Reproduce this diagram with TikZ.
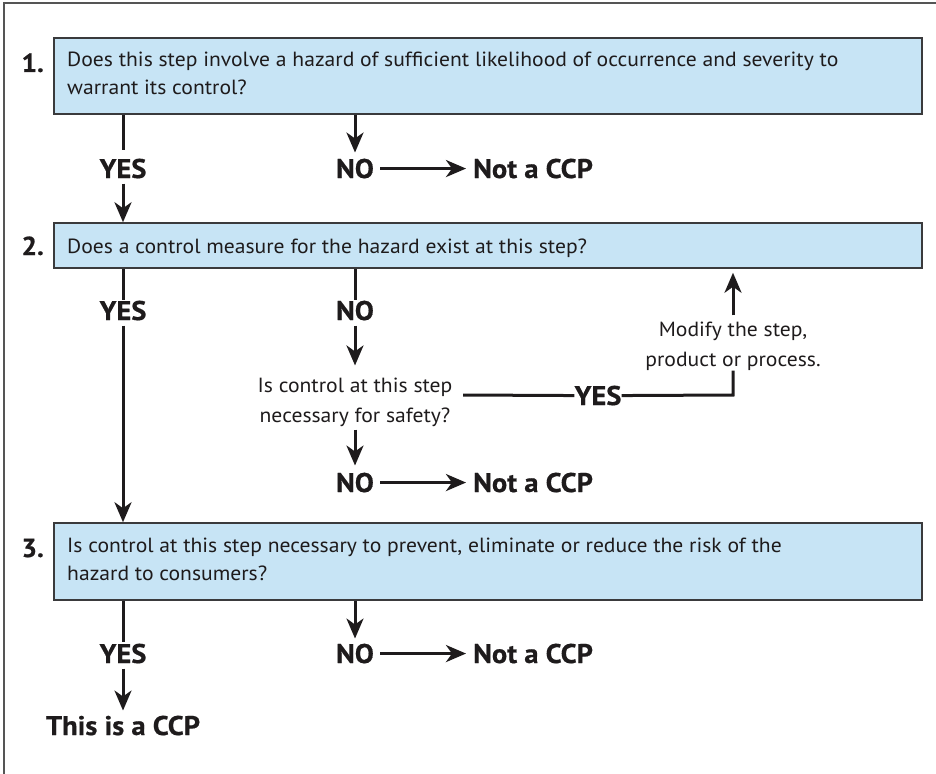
\documentclass[tikz,border=0pt]{standalone}
\usepackage{fontspec}
\setmainfont[FakeStretch=1.055, BoldFeatures={FakeBold=0.6}]{PT Sans}
\usetikzlibrary{arrows.meta,fit}
\definecolor{boxfill}{HTML}{C7E4F5}
\definecolor{boxline}{HTML}{3A3A3C}
\definecolor{ink}{HTML}{1E1B1C}
\definecolor{framecol}{HTML}{555555}
\newcommand\boxtextfont{\fontsize{20.5}{28}\selectfont}
\newcommand\stepnofont{\bfseries\fontsize{26}{28}\selectfont}
\newcommand\answerfont{\bfseries\fontsize{27}{30}\selectfont}
\newcommand\cnotefont{\fontsize{20.5}{30}\selectfont}
\begin{document}
\begin{tikzpicture}[x=1pt,y=-1pt,
  qbox/.style={draw=boxline, line width=1.5pt, fill=boxfill, inner sep=0pt},
  qtext/.style={font=\boxtextfont, text=ink, inner sep=0pt, anchor=base west},
  stepno/.style={font=\stepnofont, text=ink, inner sep=0pt, anchor=base east},
  ans/.style={font=\answerfont, text=ink, inner sep=0pt, anchor=base},
  result/.style={ans, anchor=base west},
  cnote/.style={font=\cnotefont, text=ink, inner sep=0pt, align=center},
  conn/.style={draw=ink, line width=3pt},
  arr/.style={conn, -{Stealth[length=20pt,width=17pt,inset=6pt]}}]
\useasboundingbox (0,0) rectangle (936,773);
\clip (0,0) rectangle (936,773);
% outer frame
\draw[framecol, line width=1.5pt] (4,790) -- (4,3) -- (950,3);

% question boxes
\node[qbox, fit={(54,38) (922,114)}] (b1) {};
\node[qbox, fit={(54,223) (922,268)}] (b2) {};
\node[qbox, fit={(54,523) (922,600)}] (b3) {};

\node[stepno] (n1) at (44,72) {1.};
\node[qtext] (q1a) at (67,67) {Does this step involve a hazard of sufficient likelihood of occurrence and severity to};
\node[qtext] (q1b) at (67,95) {warrant its control?};
\node[stepno] (n2) at (44,255) {2.};
\node[qtext] (q2) at (67,253) {Does a control measure for the hazard exist at this step?};
\node[stepno] (n3) at (44,557) {3.};
\node[qtext] (q3a) at (67,552) {Is control at this step necessary to prevent, eliminate or reduce the risk of the};
\node[qtext] (q3b) at (67,580) {hazard to consumers?};

% answers to question 1
\node[ans] (yes1) at (123,178) {YES};
\node[ans] (no1) at (355,178) {NO};
\node[result] (ncp1) at (473,178) {Not a CCP};
\draw[conn, shorten >=9pt] (b1.south -| yes1) -- (yes1.north);
\draw[arr, shorten <=5pt] (yes1.south) -- (b2.north -| yes1);
\draw[arr, shorten >=6pt] (b1.south -| no1) -- (no1.north);
\draw[arr, shorten <=6pt, shorten >=7pt] (no1.east) -- (ncp1.west);

% answers to question 2
\node[ans] (yes2) at (123,320) {YES};
\node[ans] (no2) at (355,320) {NO};
\node[cnote] (safety) at (355,402) {Is control at this step\\necessary for safety?};
\node[ans] (yes3) at (598,405) {YES};
\node[cnote] (modify) at (733,346) {Modify the step,\\product or process.};
\coordinate (yesl) at (463,395);
\coordinate (bend) at (733,395);
\node[ans] (no3) at (355,492) {NO};
\node[result] (ncp2) at (473,492) {Not a CCP};
\draw[conn, shorten >=1pt] (b2.south -| yes2) -- (yes2.north);
\draw[arr, shorten <=5pt] (yes2.south) -- (b3.north -| yes2);
\draw[conn, shorten >=1pt] (b2.south -| no2) -- (no2.north);
\draw[arr, shorten <=5pt, shorten >=12pt] (no2.south) -- (safety.north);
\draw[conn] (yesl) -- (yes3.west);
\draw[conn] (yes3.east) -- (bend) -- (modify.south);
\draw[arr, shorten <=6pt, shorten >=4pt] (modify.north) -- (b2.south -| modify);
\draw[arr, shorten <=3pt, shorten >=7pt] (safety.south) -- (no3.north);
\draw[arr, shorten <=6pt, shorten >=7pt] (no3.east) -- (ncp2.west);

% answers to question 3
\node[ans] (yes4) at (123,663) {YES};
\node[ans] (no4) at (355,663) {NO};
\node[result] (ncp3) at (473,663) {Not a CCP};
\node[ans] (ccp) at (123,735) {This is a CCP};
\draw[conn, shorten >=2pt] (b3.south -| yes4) -- (yes4.north);
\draw[arr, shorten <=5pt, shorten >=5pt] (yes4.south) -- (ccp.north);
\draw[arr, shorten >=5pt] (b3.south -| no4) -- (no4.north);
\draw[arr, shorten <=6pt, shorten >=7pt] (no4.east) -- (ncp3.west);
\end{tikzpicture}
\end{document}
